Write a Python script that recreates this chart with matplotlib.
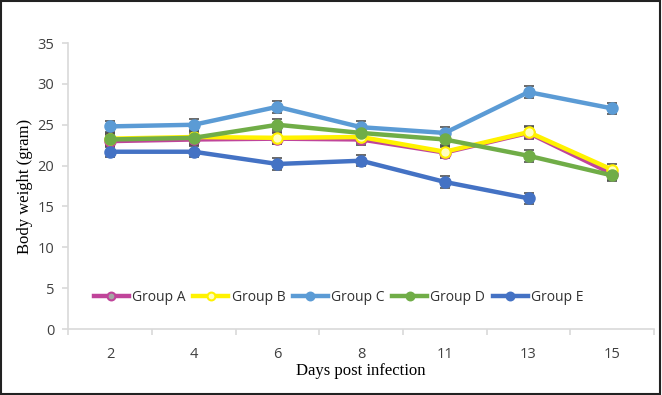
import numpy as np
import matplotlib.pyplot as plt

days = ['2', '4', '6', '8', '11', '13', '15']
group_a = [23.0, 23.2, 23.3, 23.2, 21.6, 24.0, 19.0]
group_b = [23.3, 23.5, 23.4, 23.5, 21.7, 24.1, 19.5]
group_c = [24.8, 25.0, 27.2, 24.7, 24.0, 29.0, 27.0]
group_d = [23.2, 23.4, 25.0, 24.0, 23.2, 21.2, 18.8]
group_e = [21.7, 21.7, 20.2, 20.6, 18.0, 16.0, np.nan]
err = [0.7, 0.7, 0.7, 0.7, 0.7, 0.7, 0.7]

fig = plt.figure(figsize=(6.62, 3.95), dpi=100)
ax = fig.add_axes([0.103, 0.167, 0.885, 0.724])
x = np.arange(len(days))

# (values, line colour, marker face, label)
series = [
    (group_a, '#C0449A', '#A5A5A5', 'Group A'),
    (group_b, '#FFF200', '#FFFFC0', 'Group B'),
    (group_c, '#5B9BD5', '#5B9BD5', 'Group C'),
    (group_d, '#70AD47', '#70AD47', 'Group D'),
    (group_e, '#4472C4', '#4472C4', 'Group E'),
]
for vals, col, face, lab in series:
    ax.errorbar(x, vals, yerr=err, fmt='none', ecolor='#505050', elinewidth=1.2,
                capsize=3.5, capthick=1.2, zorder=2)
    ax.plot(x, vals, color=col, lw=3.2, marker='o', ms=7.5, mfc=face,
            mec=col, mew=1.5, label=lab, zorder=3)

ax.set_xlim(-0.5, 6.5)
ax.set_ylim(0, 35)
ax.set_yticks(range(0, 36, 5))
ax.set_xticks(x)
ax.set_xticklabels(days)
ax.set_xticks(np.arange(-0.5, 7, 1), minor=True)
for s in ['top', 'right']:
    ax.spines[s].set_visible(False)
for s in ['left', 'bottom']:
    ax.spines[s].set_color('#D9D9D9')
    ax.spines[s].set_linewidth(1.2)
ax.tick_params(axis='x', which='major', length=0, pad=13, labelsize=10.5)
ax.tick_params(axis='x', which='minor', length=4, color='#D9D9D9', width=1.2)
ax.tick_params(axis='y', length=4, color='#D9D9D9', width=1.2, labelsize=10.5,
               pad=6)
for t in ax.get_xticklabels() + ax.get_yticklabels():
    t.set_fontfamily('Open Sans')
    t.set_color('#404040')

ax.set_xlabel('Days post infection', fontfamily='Liberation Serif', fontsize=12,
              labelpad=1)
ax.set_ylabel('Body weight (gram)', fontfamily='Liberation Serif', fontsize=12,
              labelpad=3)

leg = ax.legend(loc='center', bbox_to_anchor=(0.462, 0.11), ncol=5, frameon=False,
                prop={'family': 'Open Sans', 'size': 10}, handlelength=2.5,
                handletextpad=0.25, columnspacing=0.55, markerscale=0.75)
for t in leg.get_texts():
    t.set_color('#303030')

fig.patches.append(plt.Rectangle((0.002, 0.003), 0.995, 0.994, transform=fig.transFigure,
                                 fill=False, edgecolor='#222222', lw=1.5))
fig.savefig('out.png', dpi=100)
